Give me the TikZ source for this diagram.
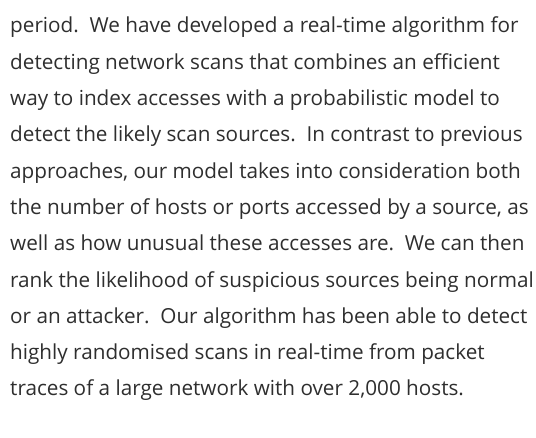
\documentclass[tikz,border=0pt]{standalone}
\usepackage{fontspec}
\setmainfont{Open Sans}
\definecolor{txt}{HTML}{2E2E2E}
\begin{document}
\begin{tikzpicture}[x=1pt,y=1pt,
  ln/.style={anchor=base west,inner sep=0pt,text=txt,font=\fontsize{20.7}{21}\selectfont}]
\useasboundingbox (0,0) rectangle (536,-438);
\node[ln] (l1) at (10,-33) {period.\ \ We have developed a real-time algorithm for};
\node[ln] (l2) at (10,-69.3) {detecting network scans that combines an efficient};
\node[ln] (l3) at (10,-105.6) {way to index accesses with a probabilistic model to};
\node[ln] (l4) at (10,-141.9) {detect the likely scan sources.\ \ In contrast to previous};
\node[ln] (l5) at (10,-178.2) {approaches, our model takes into consideration both};
\node[ln] (l6) at (10,-214.5) {the number of hosts or ports accessed by a source, as};
\node[ln] (l7) at (10,-250.8) {well as how unusual these accesses are.\ \ We can then};
\node[ln] (l8) at (10,-287.1) {rank the likelihood of suspicious sources being normal};
\node[ln] (l9) at (10,-323.4) {or an attacker.\ \ Our algorithm has been able to detect};
\node[ln] (l10) at (10,-359.7) {highly randomised scans in real-time from packet};
\node[ln] (l11) at (10,-396) {traces of a large network with over 2,000 hosts.};
\end{tikzpicture}
\end{document}
